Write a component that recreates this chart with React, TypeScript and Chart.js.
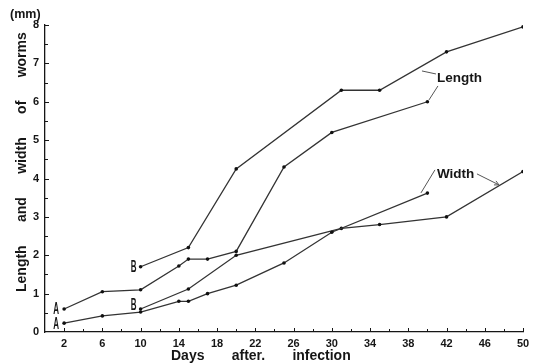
import React, { useEffect, useRef } from "react";
import { Chart, registerables } from "chart.js";

Chart.register(...registerables);

// ---- data ----
const lengthADays = [2, 6, 10, 14, 15, 17, 20, 25, 30, 40];
const lengthAValues = [0.6, 1.05, 1.1, 1.72, 1.9, 1.9, 2.1, 4.3, 5.2, 6.0];
const lengthBDays = [10, 15, 20, 31, 35, 42, 50];
const lengthBValues = [1.7, 2.2, 4.25, 6.3, 6.3, 7.3, 7.95];
const widthADays = [2, 6, 10, 14, 15, 17, 20, 25, 30, 40];
const widthAValues = [0.23, 0.42, 0.52, 0.8, 0.8, 1.0, 1.22, 1.8, 2.6, 3.62];
const widthBDays = [10, 15, 20, 31, 35, 42, 50];
const widthBValues = [0.6, 1.12, 2.0, 2.7, 2.8, 3.0, 4.18];

const xTickLabels = [2, 6, 10, 14, 18, 22, 26, 30, 34, 38, 42, 46, 50];
const yTickValues = [0, 1, 2, 3, 4, 5, 6, 7, 8];

const seriesNames = ["Length A", "Length B", "Width A", "Width B"];
const seriesMarks = ["A", "B", "A", "B"];

const FONT = "'Liberation Sans', Arial, Helvetica, sans-serif";
const INK = "#161616";
const LINE = "#333333";

const toPoints = (days: number[], vals: number[]) =>
  days.map((d, i) => ({ x: d, y: vals[i] }));

const decorPlugin = {
  id: "decor",
  afterDraw(chart: any) {
    const { ctx } = chart;
    const x = chart.scales.x;
    const y = chart.scales.y;
    const px = (dx: number, dy: number) => [x.getPixelForValue(dx), y.getPixelForValue(dy)];
    const seg = (x1: number, y1: number, x2: number, y2: number) => {
      ctx.beginPath();
      ctx.moveTo(x1, y1);
      ctx.lineTo(x2, y2);
      ctx.stroke();
    };
    ctx.save();

    // inward tick marks
    ctx.strokeStyle = INK;
    ctx.lineWidth = 1;
    for (let v = 0.5; v <= 8.001; v += 0.5) {
      const yy = Math.round(y.getPixelForValue(v)) + 0.5;
      const len = Math.abs(v - Math.round(v)) < 0.01 ? 4 : 3;
      seg(x.left, yy, x.left + len, yy);
    }
    for (let d = 2; d <= 50; d += 2) {
      const xx = Math.round(x.getPixelForValue(d)) + 0.5;
      const len = (d - 2) % 4 === 0 ? 4 : 3;
      seg(xx, y.bottom, xx, y.bottom - len);
    }

    ctx.fillStyle = INK;

    // unit
    ctx.font = `bold 12.5px ${FONT}`;
    ctx.textAlign = "left";
    ctx.textBaseline = "middle";
    ctx.fillText("(mm)", 10, 15);

    // x axis title
    ctx.font = `bold 14px ${FONT}`;
    ctx.textAlign = "left";
    ctx.textBaseline = "middle";
    ctx.fillText("Days       after.       infection", 171, 356);

    // y axis title
    ctx.save();
    ctx.translate(22, 292);
    ctx.rotate(-Math.PI / 2);
    ctx.textAlign = "left";
    ctx.textBaseline = "middle";
    ctx.fillText("Length      and      width      of      worms", 0, 0);
    ctx.restore();

    // series marks A / B next to the first point of each series
    const marks = [
      { days: lengthADays, vals: lengthAValues, dx: -8, dy: 1 },
      { days: lengthBDays, vals: lengthBValues, dx: -7, dy: 1 },
      { days: widthADays, vals: widthAValues, dx: -8, dy: 1 },
      { days: widthBDays, vals: widthBValues, dx: -7, dy: -3 },
    ];
    marks.forEach((m, i) => {
      const [cx, cy] = px(m.days[0], m.vals[0]);
      ctx.save();
      ctx.translate(cx + m.dx, cy + m.dy);
      ctx.scale(0.5, 1);
      ctx.font = `bold 16px ${FONT}`;
      ctx.textAlign = "center";
      ctx.textBaseline = "middle";
      ctx.fillText(seriesMarks[i], 0, 0);
      ctx.restore();
    });

    // "Length" label with leaders
    ctx.font = `bold 13.5px ${FONT}`;
    ctx.textAlign = "left";
    ctx.textBaseline = "middle";
    const [lx, ly] = px(41, 6.62);
    ctx.fillText("Length", lx, ly);
    ctx.strokeStyle = "#555";
    ctx.lineWidth = 1;
    seg(lx - 1, ly - 4, lx - 15, ly - 7);
    seg(lx + 1, ly + 8, lx - 8, ly + 22);

    // "Width" label with leaders
    const [wx, wy] = px(41, 4.12);
    ctx.fillText("Width", wx, wy);
    seg(wx - 2, wy - 4, wx - 16, wy + 19);
    seg(wx + 40, wy, wx + 62, wy + 11);
    seg(wx + 62, wy + 11, wx + 57, wy + 11);
    seg(wx + 62, wy + 11, wx + 59, wy + 7);

    ctx.restore();
  },
};

export default function App() {
  const canvasRef = useRef<HTMLCanvasElement | null>(null);

  useEffect(() => {
    if (!canvasRef.current) return;
    const allDays = [lengthADays, lengthBDays, widthADays, widthBDays];
    const allVals = [lengthAValues, lengthBValues, widthAValues, widthBValues];
    const chart = new Chart(canvasRef.current, {
      type: "line",
      data: {
        datasets: seriesNames.map((name, i) => ({
          label: name,
          data: toPoints(allDays[i], allVals[i]),
          borderColor: LINE,
          borderWidth: 1.3,
          pointRadius: 1.8,
          pointBackgroundColor: "#111",
          pointBorderWidth: 0,
          tension: 0,
          fill: false,
        })),
      },
      options: {
        responsive: false,
        animation: false,
        layout: { padding: { top: 25, right: 12, bottom: 0, left: 0 } },
        plugins: {
          legend: { display: false },
          tooltip: { enabled: false },
        },
        scales: {
          x: {
            type: "linear",
            min: 0,
            max: 50,
            afterBuildTicks: (s: any) => {
              s.ticks = xTickLabels.map((v) => ({ value: v }));
            },
            afterFit: (s: any) => {
              s.height = 32;
            },
            grid: { display: false, drawTicks: false },
            border: { display: true, color: INK, width: 1.3 },
            ticks: {
              padding: 5,
              color: INK,
              autoSkip: false,
              maxRotation: 0,
              font: { family: FONT, size: 11, weight: "bold" },
            },
          },
          y: {
            type: "linear",
            min: 0,
            max: 8,
            afterBuildTicks: (s: any) => {
              s.ticks = yTickValues.map((v) => ({ value: v }));
            },
            afterFit: (s: any) => {
              s.width = 45;
            },
            grid: { display: false, drawTicks: false },
            border: { display: true, color: INK, width: 1.3 },
            ticks: {
              padding: 6,
              color: INK,
              font: { family: FONT, size: 11, weight: "bold" },
            },
          },
        },
      } as any,
      plugins: [decorPlugin],
    });
    return () => chart.destroy();
  }, []);

  return (
    <div style={{ position: "absolute", left: 0, top: 0, width: 535, height: 364, background: "#fff" }}>
      <canvas ref={canvasRef} width={535} height={364} style={{ display: "block" }} />
    </div>
  );
}
